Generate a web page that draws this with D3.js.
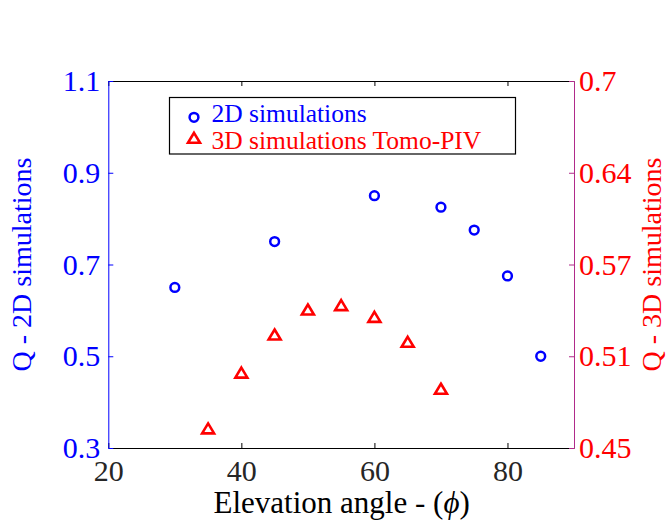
<!DOCTYPE html>
<html>
<head>
<meta charset="utf-8">
<script src="https://cdn.jsdelivr.net/npm/d3@7"></script>
<style>
  body { margin: 0; background: #fff; }
  svg { font-family: "Liberation Serif", "Times New Roman", serif; }
</style>
</head>
<body>
<div class="plot"></div>
<script>
// data
var angles2D = [30, 45, 60, 70, 75, 80, 85]
var q2D = [0.65, 0.75, 0.85, 0.825, 0.775, 0.675, 0.5]

var angles3D = [35, 40, 45, 50, 55, 60, 65, 70]
var q3D = [0.463, 0.501, 0.527, 0.544, 0.547, 0.539, 0.522, 0.49]

var xTicks = [20, 40, 60, 80]
var leftTicks = [0.3, 0.5, 0.7, 0.9, 1.1]
var rightTicks = [0.45, 0.5125, 0.575, 0.6375, 0.7]
var rightTickLabels = ["0.45", "0.51", "0.57", "0.64", "0.7"]

var legendLabels = ["2D simulations", "3D simulations Tomo-PIV"]

var width = 666, height = 523
var pLeft = 108.3, pRight = 574, pTop = 81, pBottom = 448
var blue = "#0000ff", red = "#ff0000", axisPurple = "#b02a8a"

var svg = d3.select(".plot")
            .append("svg")
              .attr("width", width)
              .attr("height", height)

var x = d3.scaleLinear().domain([20, 90]).range([pLeft, pRight])
var yL = d3.scaleLinear().domain([0.3, 1.1]).range([pBottom, pTop])
var yR = d3.scaleLinear().domain([0.45, 0.7]).range([pBottom, pTop])

// top border with inward ticks
svg.append("g")
    .attr("transform", "translate(0," + pTop + ")")
    .call(d3.axisTop(x).tickValues(xTicks).tickSize(-5).tickSizeOuter(0).tickFormat(""))
    .call(g => g.selectAll("path,line").attr("stroke", "#000"))

// bottom axis
svg.append("g")
    .attr("transform", "translate(0," + pBottom + ")")
    .call(d3.axisBottom(x).tickValues(xTicks).tickSize(-5).tickSizeOuter(0).tickPadding(12))
    .call(g => g.selectAll("path,line").attr("stroke", "#000"))
    .call(g => g.selectAll("text")
        .attr("fill", "#262626")
        .style("font-size", "30px")
        .style("font-family", "Liberation Serif"))

// left axis (2D)
svg.append("g")
    .attr("transform", "translate(" + pLeft + ",0)")
    .call(d3.axisLeft(yL).tickValues(leftTicks).tickSize(-5).tickSizeOuter(0).tickPadding(8)
        .tickFormat(d3.format(".1f")))
    .call(g => g.selectAll("path,line").attr("stroke", blue))
    .call(g => g.selectAll("text")
        .attr("fill", blue)
        .style("font-size", "30px")
        .style("font-family", "Liberation Serif"))

// right axis (3D)
svg.append("g")
    .attr("transform", "translate(" + pRight + ",0)")
    .call(d3.axisRight(yR).tickValues(rightTicks).tickSize(-5).tickSizeOuter(0).tickPadding(5)
        .tickFormat((d, i) => rightTickLabels[i]))
    .call(g => g.selectAll("path,line").attr("stroke", axisPurple))
    .call(g => g.selectAll("text")
        .attr("fill", red)
        .style("font-size", "30px")
        .style("font-family", "Liberation Serif"))

// axis titles
var xTitle = svg.append("text")
    .attr("x", (pLeft + pRight) / 2 + 0.5)
    .attr("y", 513)
    .attr("text-anchor", "middle")
    .attr("fill", "#000")
    .style("font-size", "31px")
xTitle.append("tspan").text("Elevation angle - (")
xTitle.append("tspan").style("font-style", "italic").text("\u03d5")
xTitle.append("tspan").text(")")

svg.append("text")
    .attr("transform", "translate(31," + ((pTop + pBottom) / 2) + ") rotate(-90)")
    .attr("text-anchor", "middle")
    .attr("fill", blue)
    .style("font-size", "28px")
    .text("Q - 2D simulations")

svg.append("text")
    .attr("transform", "translate(661," + ((pTop + pBottom) / 2) + ") rotate(-90)")
    .attr("text-anchor", "middle")
    .attr("fill", red)
    .style("font-size", "28px")
    .text("Q - 3D simulations")

// markers
function trianglePath() {
  return "M0,-5.5L6,4.5L-6,4.5Z"
}

svg.selectAll("circle.q2d")
    .data(angles2D)
    .enter()
    .append("circle")
      .attr("class", "q2d")
      .attr("cx", d => x(d))
      .attr("cy", (d, i) => yL(q2D[i]))
      .attr("r", 4.4)
      .attr("fill", "none")
      .attr("stroke", blue)
      .attr("stroke-width", 2.5)

svg.selectAll("path.q3d")
    .data(angles3D)
    .enter()
    .append("path")
      .attr("class", "q3d")
      .attr("d", trianglePath())
      .attr("transform", (d, i) => "translate(" + x(d) + "," + yR(q3D[i]) + ")")
      .attr("fill", "none")
      .attr("stroke", red)
      .attr("stroke-width", 2.6)

// legend
var legend = svg.append("g")
legend.append("rect")
    .attr("x", 169.5)
    .attr("y", 97.5)
    .attr("width", 346)
    .attr("height", 56.5)
    .attr("fill", "#fff")
    .attr("stroke", "#000")
    .attr("stroke-width", 1.2)

legend.append("circle")
    .attr("cx", 194)
    .attr("cy", 117.3)
    .attr("r", 4.4)
    .attr("fill", "none")
    .attr("stroke", blue)
    .attr("stroke-width", 2.5)

legend.append("path")
    .attr("d", trianglePath())
    .attr("transform", "translate(194,138.3)")
    .attr("fill", "none")
    .attr("stroke", red)
    .attr("stroke-width", 2.6)

legend.selectAll("text")
    .data(legendLabels)
    .enter()
    .append("text")
      .attr("x", 211.5)
      .attr("y", (d, i) => 122 + i * 26.5)
      .attr("fill", (d, i) => i == 0 ? blue : red)
      .style("font-size", "25.5px")
      .text(d => d)
</script>
</body>
</html>
